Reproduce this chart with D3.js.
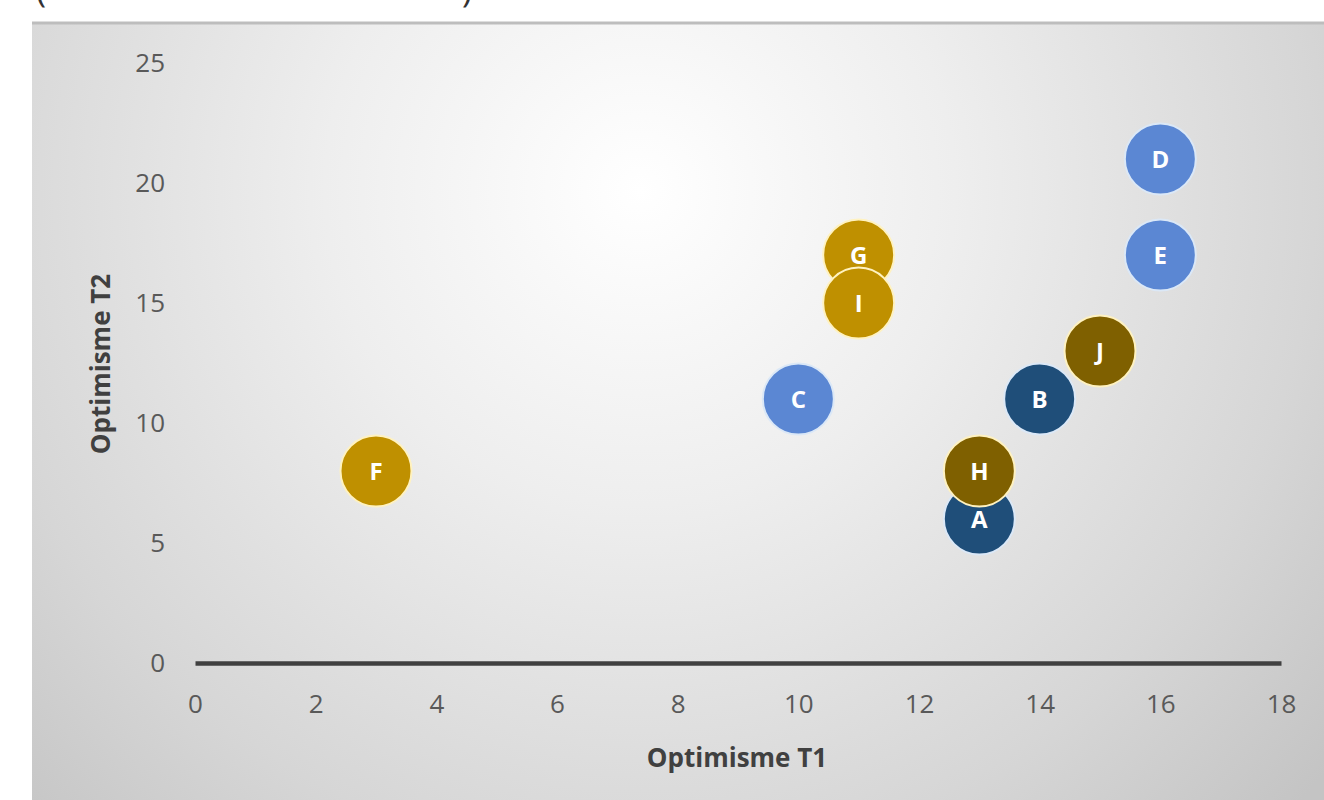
<!DOCTYPE html>
<html>
<head>
<meta charset="utf-8">
<script src="https://cdn.jsdelivr.net/npm/d3@7"></script>
<style>
  html, body { margin: 0; padding: 0; background: #ffffff; }
  svg { display: block; }
</style>
</head>
<body>
<svg id="chart" width="1324" height="800"></svg>
<script>
// Points: label, Optimisme T1, Optimisme T2, group
const labels = ["A", "B", "C", "D", "E", "F", "G", "H", "I", "J"];
const t1Values = [13, 14, 10, 16, 16, 3, 11, 13, 11, 15];
const t2Values = [6, 11, 11, 21, 17, 8, 17, 8, 15, 13];
const groups = ["navy", "navy", "blue", "blue", "blue", "gold", "gold", "brown", "gold", "brown"];

const xTicks = [0, 2, 4, 6, 8, 10, 12, 14, 16, 18];
const yTicks = [0, 5, 10, 15, 20, 25];

const groupColors = { navy: "#1f4e79", blue: "#5b87d3", gold: "#bf9000", brown: "#7f6000" };
const groupHalo = { navy: "#dbe8f7", blue: "#dbe8f7", gold: "#fff2c0", brown: "#fff2c0" };

const svg = d3.select("#chart");
const W = 1324, H = 800;

// Panel with a soft radial light
const defs = svg.append("defs");
const grad = defs.append("radialGradient")
  .attr("id", "panelGrad")
  .attr("gradientUnits", "userSpaceOnUse")
  .attr("cx", 640).attr("cy", 190).attr("r", 900);
grad.append("stop").attr("offset", "0%").attr("stop-color", "#ffffff");
grad.append("stop").attr("offset", "35%").attr("stop-color", "#eeeeee");
grad.append("stop").attr("offset", "75%").attr("stop-color", "#d6d6d6");
grad.append("stop").attr("offset", "100%").attr("stop-color", "#c4c4c4");

svg.append("rect").attr("x", 32).attr("y", 22).attr("width", W - 32).attr("height", H - 22)
  .attr("fill", "url(#panelGrad)");
svg.append("line").attr("x1", 32).attr("x2", W).attr("y1", 23).attr("y2", 23)
  .attr("stroke", "#bdbdbd").attr("stroke-width", 3);

// Bits of the heading above the panel
svg.append("text").attr("x", 36).attr("y", 2).attr("font-family", "Open Sans, sans-serif")
  .attr("font-size", 34).attr("fill", "#333").text("(");
svg.append("text").attr("x", 462).attr("y", 2).attr("font-family", "Open Sans, sans-serif")
  .attr("font-size", 34).attr("fill", "#333").text(")");

const x = d3.scaleLinear().domain([0, 18]).range([195, 1281]);
const y = d3.scaleLinear().domain([0, 25]).range([663, 63]);

const font = "Open Sans, sans-serif";

// X axis
const xAxis = svg.append("g").attr("transform", `translate(0,${y(0)})`)
  .call(d3.axisBottom(x).tickValues(xTicks).tickSize(0).tickPadding(32).tickFormat(d3.format("d")));
xAxis.select(".domain").attr("stroke", "#404040").attr("stroke-width", 4.5);
xAxis.selectAll("text").attr("font-family", font).attr("font-size", 26).attr("fill", "#595959");

// Y axis
const yAxis = svg.append("g").attr("transform", `translate(${x(0)},0)`)
  .call(d3.axisLeft(y).tickValues(yTicks).tickSize(0).tickPadding(30).tickFormat(d3.format("d")));
yAxis.select(".domain").remove();
yAxis.selectAll("text").attr("font-family", font).attr("font-size", 26).attr("fill", "#595959");

// Axis titles
svg.append("text").attr("x", 737).attr("y", 767).attr("text-anchor", "middle")
  .attr("font-family", font).attr("font-size", 26).attr("font-weight", "bold").attr("fill", "#404040")
  .text("Optimisme T1");
svg.append("text").attr("transform", `translate(110,${364}) rotate(-90)`).attr("text-anchor", "middle")
  .attr("font-family", font).attr("font-size", 26).attr("font-weight", "bold").attr("fill", "#404040")
  .text("Optimisme T2");

// Bubbles
const data = labels.map((l, i) => ({ label: l, t1: t1Values[i], t2: t2Values[i], group: groups[i] }));
const pts = svg.append("g").selectAll("g").data(data).join("g")
  .attr("transform", d => `translate(${x(d.t1)},${y(d.t2)})`);
pts.append("circle").attr("r", 35.5)
  .attr("fill", d => groupColors[d.group])
  .attr("stroke", d => groupHalo[d.group]).attr("stroke-width", 2);
pts.append("text").attr("text-anchor", "middle").attr("dy", "0.36em")
  .attr("font-family", font).attr("font-size", 24).attr("font-weight", "bold").attr("fill", "#ffffff")
  .text(d => d.label);
</script>
</body>
</html>
